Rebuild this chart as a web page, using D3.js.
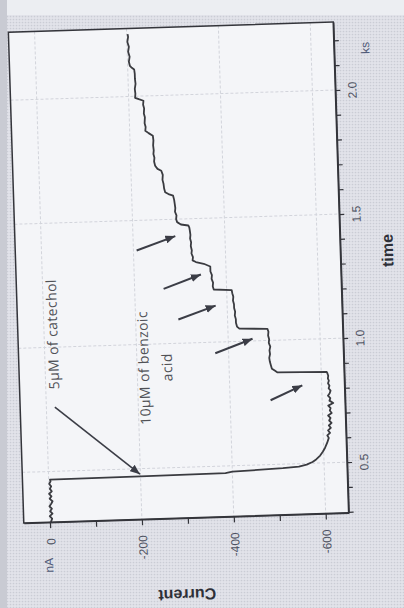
<!DOCTYPE html>
<html><head><meta charset="utf-8">
<script src="https://cdn.jsdelivr.net/npm/d3@7"></script>
<style>html,body{margin:0;padding:0;background:#dcdde4;} svg{display:block}</style>
</head><body><svg id="c" width="404" height="608"></svg>
<script>
// ---- data (time in ks, current in nA) ----
const timeKs = [0.296,0.31,0.32,0.33,0.34,0.35,0.36,0.37,0.38,0.39,0.40,0.41,0.42,0.43,0.44,0.45,0.46,0.467,
 0.469,0.471,0.476,0.480,0.484,0.488,0.495,0.505,0.515,0.53,0.545,0.56,0.58,
 0.60,0.61,0.62,0.63,0.64,0.65,0.66,0.67,0.68,0.69,0.70,0.71,0.72,0.73,0.74,0.75,0.76,0.77,0.78,0.79,0.80,0.81,0.82,0.83,0.84,0.85,0.862,0.866,
 0.870,0.878,0.886,0.90,0.915,0.93,0.945,0.96,0.975,0.99,1.005,1.02,1.035,1.047,
 1.051,1.06,1.075,1.09,1.105,1.12,1.135,1.15,1.165,1.18,1.195,1.207,
 1.212,1.225,1.24,1.255,1.27,1.285,1.305,
 1.317,1.325,1.332,1.345,1.36,1.372,1.39,1.405,1.42,1.435,1.452,1.465,1.473,
 1.478,1.488,1.50,1.515,1.53,1.545,1.562,1.578,1.595,
 1.602,1.61,1.625,1.644,1.66,1.68,1.697,
 1.705,1.718,1.735,1.75,1.765,1.78,1.80,1.82,1.839,
 1.85,1.86,1.875,1.89,1.914,1.93,1.95,1.965,1.981,
 1.988,1.994,2.01,2.03,2.05,2.07,2.09,2.108,
 2.115,2.123,2.14,2.16,2.18,2.20,2.22,2.24,2.251];
const currentNa = [-2,-5,0,-6,-1,-5,0,-4,-7,-1,-5,0,-6,-2,-5,-1,-4,-3,
 -200,-385,-400,-455,-510,-545,-562,-575,-583,-592,-598,-603,-608,
 -612,-609,-615,-611,-617,-613,-619,-614,-617,-612,-620,-616,-618,-613,-624,-616,-618,-613,-617,-619,-615,-617,-614,-616,-614,-615,-613,-612,
 -505,-499,-493,-491,-489,-488,-490,-489,-491,-488,-489,-487,-488,-486,
 -425,-420,-418,-418,-416,-417,-415,-415,-413,-414,-412,-411,
 -372,-370,-371,-368,-369,-366,-366,
 -352,-335,-328,-329,-326,-327,-325,-326,-324,-325,-324,-323,-321,
 -305,-297,-295,-296,-293,-294,-293,-292,-290,
 -280,-273,-271,-270,-268,-269,-266,
 -258,-253,-251,-252,-250,-251,-250,-251,-250,
 -241,-234,-235,-233,-234,-232,-233,-231,-232,
 -222,-214,-215,-214,-216,-215,-215,-214,
 -209,-205,-203,-205,-202,-204,-201,-203,-202];

const timeMinorTicks = [0.3,0.4,0.5,0.6,0.7,0.8,0.9,1.0,1.1,1.2,1.3,1.4,1.5,1.6,1.7,1.8,1.9,2.0,2.1,2.2];
const timeMajorTicks = [0.5,1.0,1.5,2.0];
const currentMinorTicks = [0,-100,-200,-300,-400,-500,-600];
const currentMajorTicks = [0,-200,-400,-600];
const timeTitle = "time", timeUnit = "ks";
const currentTitle = "Current", currentUnit = "nA";
const catecholLabel = "5μM of catechol";
const benzoicLabel = ["10μM of benzoic", "acid"];
// annotation anchors, [time ks, current nA]
const catecholArrow = [[0.759,-18.5],[0.478,-199]];
const benzoicArrowTails = [[0.759,-488],[0.955,-371],[1.096,-293],[1.221,-263],[1.379,-207]];
const benzoicArrowHeads = [[0.815,-558],[1.009,-453],[1.147,-375],[1.274,-345],[1.432,-292]];
const catecholLabelAt = [1.052,-18.5];
const benzoicLabelAt = [[0.905,-215],[0.905,-265.5]];

// ---- layout ----
const svg = d3.select("#c");
const defs = svg.append("defs");
const pat = defs.append("pattern").attr("id","ht").attr("width",3).attr("height",3).attr("patternUnits","userSpaceOnUse");
pat.append("rect").attr("width",3).attr("height",3).attr("fill","#e2e3ea");
pat.append("circle").attr("cx",1.5).attr("cy",1.5).attr("r",0.85).attr("fill","#caccd5");
defs.append("marker").attr("id","ah").attr("viewBox","0 0 10 8").attr("refX",10).attr("refY",4)
  .attr("markerWidth",10).attr("markerHeight",8).attr("markerUnits","userSpaceOnUse").attr("orient","auto")
  .append("path").attr("d","M0,0 L10,4 L0,8 Z").attr("fill","#3b3d46");

svg.append("rect").attr("width",404).attr("height",608).attr("fill","url(#ht)");
svg.append("rect").attr("width",404).attr("height",15).attr("fill","#eceef2");
svg.append("rect").attr("width",7).attr("height",608).attr("fill","#c9cbd3");

const L = 16, R = 341, T = 27, B = 518;
const g = svg.append("g").attr("transform","rotate(-1.8,178.5,272.5)");
const xI = d3.scaleLinear().domain([57,-650]).range([L,R]);
const yT = d3.scaleLinear().domain([0.296,2.274]).range([B,T]);

g.append("rect").attr("x",L).attr("y",T).attr("width",R-L).attr("height",B-T).attr("fill","#f4f5f8");

// gridlines
g.selectAll("line.gv").data(currentMajorTicks).join("line").attr("class","gv")
  .attr("x1",d=>xI(d)).attr("x2",d=>xI(d)).attr("y1",T).attr("y2",B)
  .attr("stroke","#d2d4db").attr("stroke-width",1).attr("stroke-dasharray","3,2");
g.selectAll("line.gh").data(timeMajorTicks).join("line").attr("class","gh")
  .attr("y1",d=>yT(d)).attr("y2",d=>yT(d)).attr("x1",L).attr("x2",R)
  .attr("stroke","#d2d4db").attr("stroke-width",1).attr("stroke-dasharray","3,2");

// trace
const pts = timeKs.map((t,i)=>[t,currentNa[i]]);
g.append("path").datum(pts)
  .attr("d", d3.line().x(d=>xI(d[1])).y(d=>yT(d[0])))
  .attr("fill","none").attr("stroke","#3a3b40").attr("stroke-width",1.8).attr("stroke-linejoin","round");

// frame
g.append("rect").attr("x",L).attr("y",T).attr("width",R-L).attr("height",B-T)
  .attr("fill","none").attr("stroke","#34353b").attr("stroke-width",1.5);

const isMaj = (arr,d)=>arr.some(m=>Math.abs(m-d)<1e-9);
// time axis (right side)
const axT = g.append("g").attr("transform",`translate(${R},0)`)
  .call(d3.axisRight(yT).tickValues(timeMinorTicks).tickSize(5).tickSizeOuter(0)
    .tickFormat(d=>isMaj(timeMajorTicks,d)? d3.format(".1f")(d) : ""));
axT.select(".domain").attr("stroke","#34353b").attr("stroke-width",1.5);
axT.selectAll(".tick line").attr("stroke","#34353b").attr("stroke-width",1.2);
axT.selectAll(".tick text").attr("x",0).attr("y",0).attr("dy","0.35em")
  .attr("transform","translate(17,0) rotate(-90)").attr("text-anchor","middle")
  .attr("font-family","Liberation Sans, Arial, sans-serif").attr("font-size",12).attr("fill","#4e5262");

// current axis (bottom)
const axI = g.append("g").attr("transform",`translate(0,${B})`)
  .call(d3.axisBottom(xI).tickValues(currentMinorTicks).tickSize(6).tickSizeOuter(0)
    .tickFormat(d=>isMaj(currentMajorTicks,d)? String(d) : ""));
axI.select(".domain").attr("stroke","#34353b").attr("stroke-width",1.5);
axI.selectAll(".tick line").attr("stroke","#34353b").attr("stroke-width",1.2);
axI.selectAll(".tick text").attr("x",0).attr("y",0).attr("dy","0.35em")
  .attr("transform","translate(0,16) rotate(-90)").attr("text-anchor","end")
  .attr("font-family","Liberation Sans, Arial, sans-serif").attr("font-size",12).attr("fill","#4e5262");

// axis titles & units
const rotText = (x,y,ang,txt,opts)=>{
  const t = g.append("text").attr("transform",`translate(${x},${y}) rotate(${ang})`)
    .attr("text-anchor",opts.anchor||"middle").attr("dy",opts.dy||"0.35em")
    .attr("font-family",opts.family||"Liberation Sans, Arial, sans-serif")
    .attr("font-size",opts.size||12).attr("font-weight",opts.weight||"normal")
    .attr("fill",opts.fill||"#4e5262").text(txt);
  if (opts.ls) t.attr("letter-spacing",opts.ls);
  return t;
};
rotText(R+47, yT(1.347), -90, timeTitle, {size:16, weight:"bold", fill:"#2e3038"});
rotText(R+31, yT(2.166), -90, timeUnit, {size:12, fill:"#505a78"});
rotText(xI(-293.6), B+77, 180, currentTitle, {size:16, weight:"bold", fill:"#2e3038"});
rotText(xI(5), B+43, -90, currentUnit, {size:12, fill:"#505a78"});

// annotations
const annFont = "Open Sans, DejaVu Sans, sans-serif";
rotText(xI(catecholLabelAt[1]), yT(catecholLabelAt[0]), -90, catecholLabel, {size:14, fill:"#505156", family:annFont, ls:"0.4px"});
benzoicLabel.forEach((s,i)=>{
  rotText(xI(benzoicLabelAt[i][1]), yT(benzoicLabelAt[i][0]), -90, s, {size:14, fill:"#505156", family:annFont, ls:"0.4px"});
});
g.append("line").attr("x1",xI(catecholArrow[0][1])).attr("y1",yT(catecholArrow[0][0]))
  .attr("x2",xI(catecholArrow[1][1])).attr("y2",yT(catecholArrow[1][0]))
  .attr("stroke","#3b3d46").attr("stroke-width",1.6).attr("marker-end","url(#ah)");
g.selectAll("line.ba").data(benzoicArrowTails).join("line").attr("class","ba")
  .attr("x1",d=>xI(d[1])).attr("y1",d=>yT(d[0]))
  .attr("x2",(d,i)=>xI(benzoicArrowHeads[i][1])).attr("y2",(d,i)=>yT(benzoicArrowHeads[i][0]))
  .attr("stroke","#3b3d46").attr("stroke-width",2).attr("marker-end","url(#ah)");
</script></body></html>
